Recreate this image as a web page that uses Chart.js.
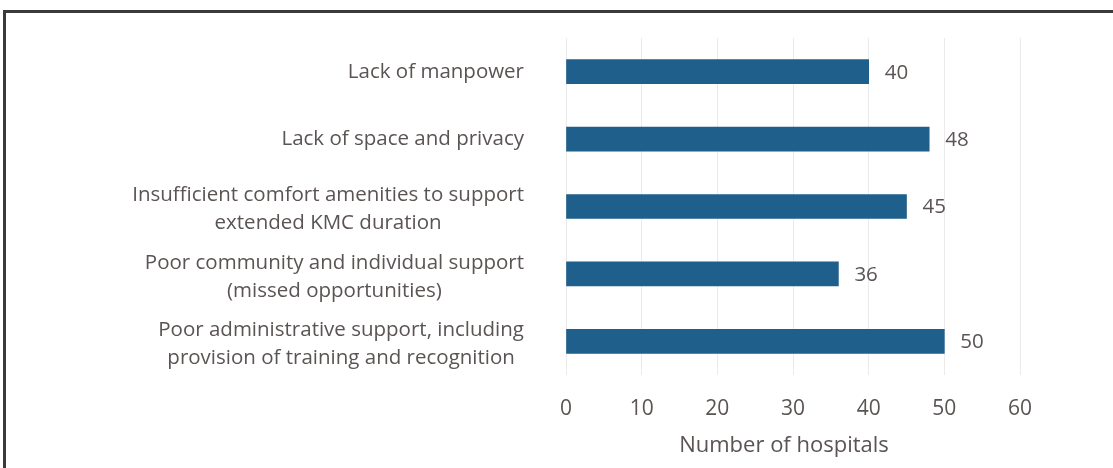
<!DOCTYPE html>
<html>
<head>
<meta charset="utf-8">
<script src="https://cdn.jsdelivr.net/npm/chart.js@4"></script>
<style>
  html, body { margin: 0; padding: 0; background: #fff; width: 1113px; height: 468px; overflow: hidden; }
  #wrap { position: absolute; left: 0; top: 0; width: 1113px; height: 468px; }
  #frame { position: absolute; left: 3px; top: 10px; width: 1200px; height: 600px;
           border-top: 3px solid #3a3a3a; border-left: 3px solid #3a3a3a; pointer-events: none; }
</style>
</head>
<body>
<div id="wrap"><canvas id="c" width="1113" height="468"></canvas></div>
<div id="frame"></div>
<script>
const categories = [
  ["Lack of manpower"],
  ["Lack of space and privacy"],
  ["Insufficient comfort amenities to support", "extended KMC duration"],
  ["Poor community and individual support", "(missed opportunities)"],
  ["Poor administrative support, including", "provision of training and recognition"]
];
const hospitals = [40, 48, 45, 36, 50];
const xTicks = [0, 10, 20, 30, 40, 50, 60];
const xTitle = "Number of hospitals";

const textColor = "#5a5453";
const fontFamily = "'Open Sans', 'Liberation Sans', sans-serif";

const labelPlugin = {
  id: 'customLabels',
  afterDatasetsDraw(chart) {
    const ctx = chart.ctx;
    const meta = chart.getDatasetMeta(0);
    ctx.save();
    ctx.fillStyle = textColor;
    ctx.font = "20.5px " + fontFamily;
    ctx.textBaseline = 'middle';
    ctx.textAlign = 'left';
    meta.data.forEach((bar, i) => {
      ctx.fillText(String(hospitals[i]), bar.x + 16, bar.y + 1);
    });
    // y category labels: block right-aligned, lines centered
    const yScale = chart.scales.y;
    const rightEdge = 524;
    const lh = 28;
    ctx.textAlign = 'center';
    categories.forEach((lines, i) => {
      const cy = yScale.getPixelForValue(i);
      let maxW = 0;
      lines.forEach(l => { maxW = Math.max(maxW, ctx.measureText(l).width); });
      const cx = rightEdge - maxW / 2;
      const startY = cy - (lines.length - 1) * lh / 2 + (lines.length > 1 ? 3 : 0);
      lines.forEach((l, k) => ctx.fillText(l, cx, startY + k * lh));
    });
    // x axis title
    const xs = chart.scales.x;
    ctx.font = "22px " + fontFamily;
    ctx.fillText(xTitle, (xs.left + xs.right) / 2 - 9, 446);
    ctx.restore();
  }
};

new Chart(document.getElementById('c'), {
  type: 'bar',
  data: {
    labels: categories.map(c => c.join(' ')),
    datasets: [{
      data: hospitals,
      backgroundColor: '#1f5f8b',
      barThickness: 24
    }]
  },
  options: {
    indexAxis: 'y',
    responsive: false,
    animation: false,
    devicePixelRatio: 1,
    layout: { padding: { left: 0, right: 93, top: 38, bottom: 0 } },
    plugins: { legend: { display: false }, tooltip: { enabled: false } },
    scales: {
      x: {
        min: 0, max: 60,
        afterBuildTicks: s => { s.ticks = xTicks.map(v => ({ value: v })); },
        afterFit: s => { s.height = 93; },
        grid: { color: '#ebebeb', lineWidth: 1, drawTicks: false },
        border: { display: false },
        ticks: { color: textColor, font: { size: 21, family: fontFamily }, padding: 21 },
        title: { display: false }
      },
      y: {
        afterFit: s => { s.width = 566; },
        grid: { display: false },
        border: { display: false },
        ticks: { display: false }
      }
    }
  },
  plugins: [labelPlugin]
});
</script>
</body>
</html>
